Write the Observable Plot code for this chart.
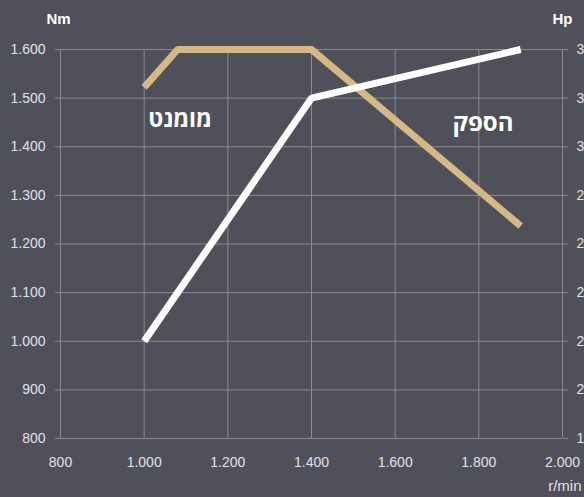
<!DOCTYPE html>
<html>
<head>
<meta charset="utf-8">
<script src="https://cdn.jsdelivr.net/npm/d3@7"></script>
<script src="https://cdn.jsdelivr.net/npm/@observablehq/plot@0.6"></script>
<style>
  html, body { margin: 0; padding: 0; background: #50505a; }
  #chart svg { display: block; }
</style>
</head>
<body>
<div id="chart"></div>
<script>
// Data
const rpmTicks = [800, 1000, 1200, 1400, 1600, 1800, 2000];
const nmTicks = [800, 900, 1000, 1100, 1200, 1300, 1400, 1500, 1600];
const hpTicks = [180, 200, 220, 240, 260, 280, 300, 320, 340];

const torqueRpm = [1000, 1080, 1400, 1900];
const torqueNm = [1522, 1600, 1600, 1237];

const powerRpm = [1000, 1400, 1900];
const powerHp = [220, 320, 340];

const labelTorque = "מומנט";
const labelPower = "הספק";

// Map Hp onto the Nm scale (dual axis)
const hpToNm = d3.scaleLinear().domain([hpTicks[0], hpTicks[hpTicks.length - 1]]).range([nmTicks[0], nmTicks[nmTicks.length - 1]]);

const torque = torqueRpm.map((r, i) => ({rpm: r, v: torqueNm[i]}));
const power = powerRpm.map((r, i) => ({rpm: r, v: hpToNm(powerHp[i])}));

const loc = d3.formatLocale({decimal: ",", thousands: ".", grouping: [3], currency: ["", ""]});
const fmt = loc.format(",");

const grid = "#8a8a92";
const txt = "#e2e2e6";

const chart = Plot.plot({
  width: 584,
  height: 497,
  marginLeft: 60,
  marginRight: 22,
  marginTop: 49,
  marginBottom: 59,
  style: {background: "#50505a", fontFamily: "'Liberation Sans', Arial, sans-serif", fontSize: "14px", color: txt},
  x: {domain: [800, 2000]},
  y: {domain: [800, 1600]},
  marks: [
    Plot.gridX(rpmTicks, {stroke: grid, strokeOpacity: 1, strokeWidth: 1}),
    Plot.gridY(nmTicks, {stroke: grid, strokeOpacity: 1, strokeWidth: 1}),
    Plot.axisY(nmTicks, {anchor: "left", tickSize: 5, tickPadding: 10, stroke: grid, tickFormat: fmt, label: null, fill: txt, fontSize: 14}),
    Plot.axisY(nmTicks, {anchor: "right", tickSize: 5, tickPadding: 9, stroke: grid, tickFormat: (d, i) => fmt(hpTicks[i]), label: null, fill: txt, fontSize: 14}),
    Plot.axisX(rpmTicks, {anchor: "bottom", tickSize: 0, tickPadding: 19, tickFormat: fmt, label: null, fill: txt, fontSize: 14}),
    Plot.line(torque, {x: "rpm", y: "v", stroke: "#d4b886", strokeWidth: 7, strokeLinejoin: "miter", strokeLinecap: "butt"}),
    Plot.line(power, {x: "rpm", y: "v", stroke: "#ffffff", strokeWidth: 7, strokeLinejoin: "miter", strokeLinecap: "butt"}),
    Plot.text([labelTorque], {x: 1086, y: 1456, text: d => d, fill: "#ffffff", fontSize: 23, fontWeight: "bold", fontFamily: "'Open Sans', 'Liberation Sans', sans-serif"}),
    Plot.text([labelPower], {x: 1810, y: 1448, text: d => d, fill: "#ffffff", fontSize: 24, fontWeight: "bold", fontFamily: "'Open Sans', 'Liberation Sans', sans-serif"}),
    Plot.text(["Nm"], {frameAnchor: "top-left", dx: -2, dy: -36, text: d => d, fill: "#ffffff", fontSize: 15, fontWeight: "bold", textAnchor: "middle"}),
    Plot.text(["Hp"], {frameAnchor: "top-right", dx: 0, dy: -36, text: d => d, fill: "#ffffff", fontSize: 15, fontWeight: "bold", textAnchor: "middle"}),
    Plot.text(["r/min"], {frameAnchor: "bottom-right", dx: 19, dy: 52, text: d => d, fill: txt, fontSize: 15, textAnchor: "end"})
  ]
});
document.getElementById("chart").appendChild(chart);
</script>
</body>
</html>
